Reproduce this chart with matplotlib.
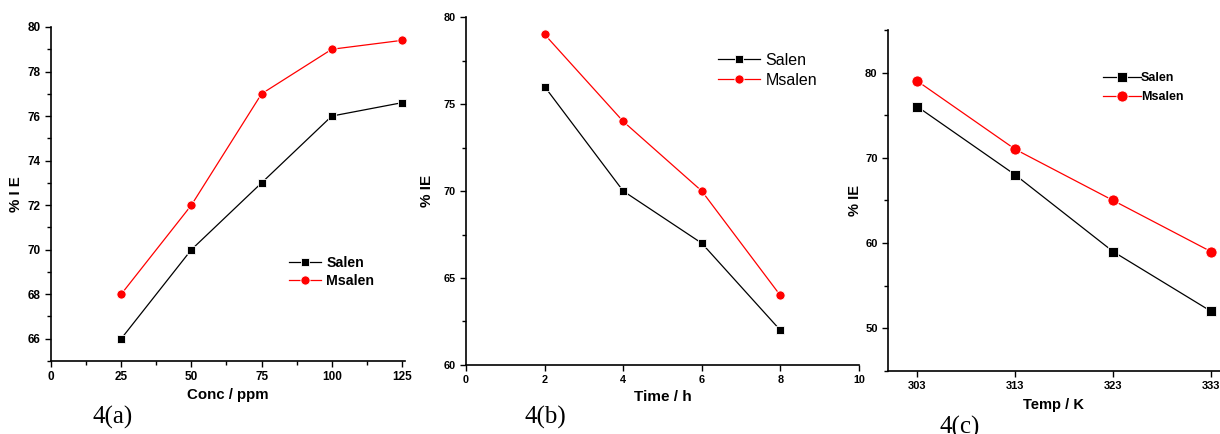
#!/usr/bin/env python3
# -*- coding=utf-8 -*-
from matplotlib import pyplot as plt
from matplotlib.ticker import MultipleLocator

plt.rcParams['font.family'] = ['Liberation Sans', 'DejaVu Sans']

# 4(a) 浓度
conc = [25, 50, 75, 100, 125]
conc_salen = [66, 70, 73, 76, 76.6]
conc_msalen = [68, 72, 77, 79, 79.4]

# 4(b) 时间
time_h = [2, 4, 6, 8]
time_salen = [76, 70, 67, 62]
time_msalen = [79, 74, 70, 64]

# 4(c) 温度
temp_k = [303, 313, 323, 333]
temp_salen = [76, 68, 59, 52]
temp_msalen = [79, 71, 65, 59]

RED = '#ff0000'


def style_axes(ax, size):
    ax.spines['top'].set_visible(False)
    ax.spines['right'].set_visible(False)
    ax.spines['left'].set_linewidth(1.2)
    ax.spines['bottom'].set_linewidth(1.2)
    ax.tick_params(which='major', direction='out', length=4, width=1,
                   labelsize=size)
    ax.tick_params(which='minor', direction='out', length=3, width=1)
    for lab in ax.get_xticklabels() + ax.get_yticklabels():
        lab.set_fontweight('bold')


def draw(ax, x, y1, y2, ms_sq, ms_ci):
    ax.plot(x, y1, color='k', lw=0.9, marker='s', ms=ms_sq,
            mec='white', mew=0.6, label='Salen', clip_on=False)
    ax.plot(x, y2, color=RED, lw=0.9, marker='o', ms=ms_ci,
            mec='white', mew=0.6, label='Msalen', clip_on=False)


fig = plt.figure(figsize=(12.2, 4.34), dpi=100)

# ---- 4(a)
ax1 = fig.add_axes([0.0418, 0.1682, 0.290, 0.7696])
draw(ax1, conc, conc_salen, conc_msalen, 5.6, 6.6)
ax1.set_xlim(0, 126)
ax1.set_ylim(65, 80)
ax1.xaxis.set_major_locator(MultipleLocator(25))
ax1.xaxis.set_minor_locator(MultipleLocator(12.5))
ax1.yaxis.set_major_locator(MultipleLocator(2))
ax1.yaxis.set_minor_locator(MultipleLocator(1))
style_axes(ax1, 8.5)
ax1.set_xlabel('Conc / ppm', fontsize=10.8, fontweight='bold', labelpad=3)
ax1.set_ylabel('% I E', fontsize=10.8, fontweight='bold', labelpad=3)
ax1.legend(loc='upper left', bbox_to_anchor=(0.652, 0.335), frameon=False,
           borderpad=0, handlelength=2.3, handletextpad=0.35,
           labelspacing=0.3, prop={'weight': 'bold', 'size': 10.2})

# ---- 4(b)
ax2 = fig.add_axes([0.382, 0.159, 0.322, 0.8018])
draw(ax2, time_h, time_salen, time_msalen, 5.6, 6.6)
ax2.set_xlim(0, 10)
ax2.set_ylim(60, 80)
ax2.xaxis.set_major_locator(MultipleLocator(2))
ax2.yaxis.set_major_locator(MultipleLocator(5))
ax2.yaxis.set_minor_locator(MultipleLocator(2.5))
style_axes(ax2, 7.8)
ax2.set_xlabel('Time / h', fontsize=11, fontweight='bold', labelpad=3)
ax2.set_ylabel('% IE', fontsize=11, fontweight='bold', labelpad=7)
ax2.legend(loc='upper left', bbox_to_anchor=(0.622, 0.92), frameon=False,
           borderpad=0, handlelength=2.6, handletextpad=0.35,
           labelspacing=0.3, prop={'size': 11.5})

# ---- 4(c)
ax3 = fig.add_axes([0.7279, 0.1452, 0.272, 0.7857])
draw(ax3, temp_k, temp_salen, temp_msalen, 7, 8)
ax3.set_xlim(300, 333.9)
ax3.set_ylim(45, 85)
ax3.set_xticks(temp_k)
ax3.yaxis.set_major_locator(MultipleLocator(10))
ax3.yaxis.set_minor_locator(MultipleLocator(5))
style_axes(ax3, 8)
ax3.set_xlabel('Temp / K', fontsize=10.5, fontweight='bold', labelpad=5)
ax3.set_ylabel('% IE', fontsize=10.5, fontweight='bold', labelpad=2)
ax3.legend(loc='upper left', bbox_to_anchor=(0.63, 0.895), frameon=False,
           borderpad=0, handlelength=3.0, handletextpad=0.0,
           labelspacing=0.55, prop={'weight': 'bold', 'size': 9})

# 子图编号
for x, y, s in [(0.076, 0.025, '4(a)'), (0.430, 0.025, '4(b)'),
                (0.770, 0.0, '4(c)')]:
    fig.text(x, y, s, fontsize=18, family=['Liberation Serif', 'DejaVu Serif'])

plt.savefig('out.png', dpi=100)
